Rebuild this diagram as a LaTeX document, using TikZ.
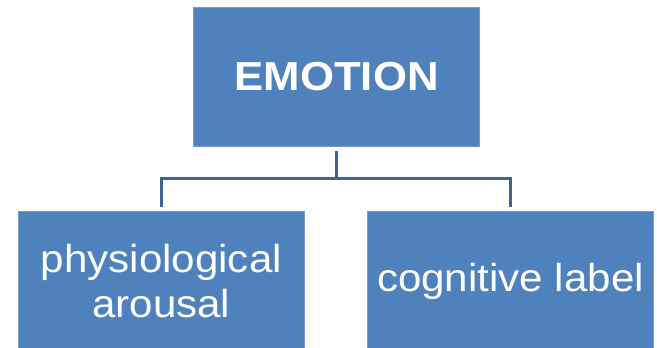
\documentclass[tikz,border=0pt]{standalone}
\usepackage{fontspec}
\setmainfont{Liberation Sans}[FakeStretch=1.08]
\usepackage{tikz}
\usetikzlibrary{positioning}

\definecolor{boxblue}{HTML}{4F81BD}
\definecolor{boxedge}{HTML}{7A9ACB}
\definecolor{linkblue}{HTML}{3D6590}

\begin{document}
\begin{tikzpicture}[
    x=1pt, y=1pt,
    node distance=64pt,
    every node/.style={align=center},
    box/.style={fill=boxblue, draw=boxedge, line width=0.6pt, text=white,
        minimum width=286pt, minimum height=139.4pt, inner sep=0pt,
        font=\fontsize{39}{45}\selectfont},
    link/.style={draw=linkblue, line width=3pt, line join=miter}
]
\useasboundingbox (0,0) rectangle (657,348);

\node[box, font=\fontsize{40.5}{45}\selectfont\bfseries] (emotion) at (336.6,271) {EMOTION};
\node[box, below=of emotion, xshift=-175.3pt] (arousal) {physiological\\arousal};
\node[box, below=of emotion, xshift=173.9pt] (cognitive) {cognitive label};

\coordinate (split) at (336.6,169.7);
\draw[link] ([yshift=-4pt]emotion.south) -- (split);
\draw[link] ([yshift=3.5pt]arousal.north) |- (split) -| ([yshift=3.5pt]cognitive.north);
\end{tikzpicture}
\end{document}
